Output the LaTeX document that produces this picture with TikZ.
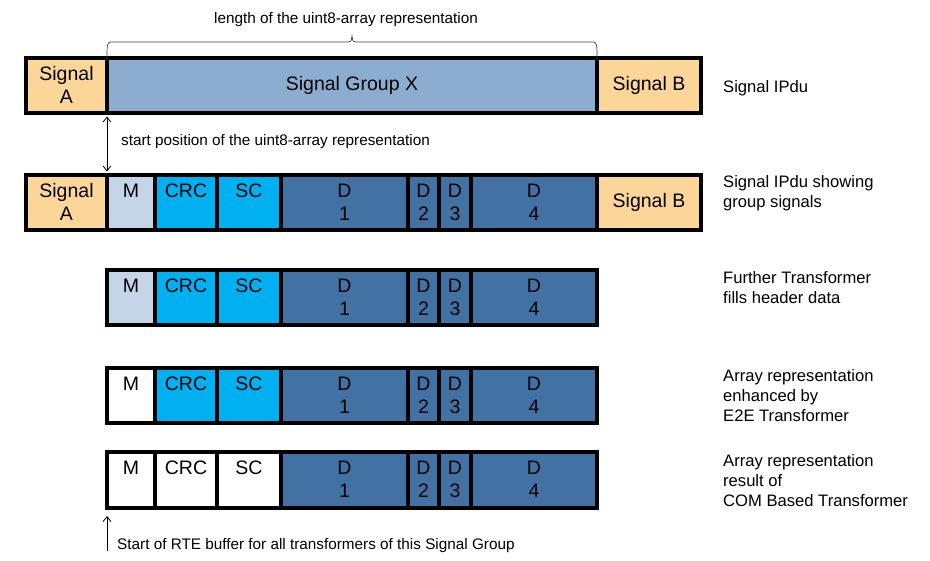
\documentclass[tikz,border=0pt]{standalone}
\usepackage{fontspec}
\setmainfont{Liberation Sans}
\usetikzlibrary{arrows.meta}
\definecolor{sigorange}{HTML}{FCD599}
\definecolor{groupx}{HTML}{8CACD0}
\definecolor{mlight}{HTML}{C5D5E8}
\definecolor{crccyan}{HTML}{00B0F0}
\definecolor{dblue}{HTML}{4272A3}
\tikzset{
  cellbox/.style={draw=black, line width=3.2pt, inner sep=0pt, outer sep=0pt, rectangle},
  celltxt/.style={inner sep=0pt, align=center, font=\fontsize{19.5}{23}\selectfont},
  sidelbl/.style={inner sep=0pt, align=left, anchor=north west, font=\fontsize{16.6}{20}\selectfont},
  annot/.style={inner sep=0pt, font=\fontsize{15.3}{18}\selectfont},
  thinarrow/.style={line width=0.8pt}
}
% name, x1, x2, y1, y2, fill, text
\newcommand\topcell[7]{%
  \node[cellbox, fill=#6, minimum width={(#3-#2)*1pt}, minimum height={(#5-#4)*1pt}] (#1) at ({(#2+#3)/2},{(#4+#5)/2}) {};
  \node[celltxt, anchor=north] (#1t) at ([yshift=-8.5pt]#1.north) {#7};}
\newcommand\midcell[7]{%
  \node[cellbox, fill=#6, minimum width={(#3-#2)*1pt}, minimum height={(#5-#4)*1pt}] (#1) at ({(#2+#3)/2},{(#4+#5)/2}) {};
  \node[celltxt] (#1t) at (#1.center) {#7};}
\begin{document}
\begin{tikzpicture}[x=1pt,y=-1pt]
\useasboundingbox (0,0) rectangle (930,561);
% Row 1
\topcell{ra}{26}{107}{58}{113}{sigorange}{Signal\\A}
\midcell{rx}{107}{597}{58}{113}{groupx}{Signal Group X}
\midcell{rb}{597}{701}{58}{113}{sigorange}{Signal B}
% Row 2
\topcell{sa}{26}{107}{175}{230}{sigorange}{Signal\\A}
\topcell{sm}{107}{155}{175}{230}{mlight}{M}
\topcell{sc}{155}{217}{175}{230}{crccyan}{CRC}
\topcell{ss}{217}{281}{175}{230}{crccyan}{SC}
\topcell{sd1}{281}{408}{175}{230}{dblue}{D\\1}
\topcell{sd2}{408}{439}{175}{230}{dblue}{D\\2}
\topcell{sd3}{439}{471}{175}{230}{dblue}{D\\3}
\topcell{sd4}{471}{597}{175}{230}{dblue}{D\\4}
\midcell{sb}{597}{701}{175}{230}{sigorange}{Signal B}
% Row 3
\topcell{fm}{107}{155}{270}{325}{mlight}{M}
\topcell{fc}{155}{217}{270}{325}{crccyan}{CRC}
\topcell{fs}{217}{281}{270}{325}{crccyan}{SC}
\topcell{fd1}{281}{408}{270}{325}{dblue}{D\\1}
\topcell{fd2}{408}{439}{270}{325}{dblue}{D\\2}
\topcell{fd3}{439}{471}{270}{325}{dblue}{D\\3}
\topcell{fd4}{471}{597}{270}{325}{dblue}{D\\4}
% Row 4
\topcell{em}{107}{155}{368}{423}{white}{M}
\topcell{ec}{155}{217}{368}{423}{crccyan}{CRC}
\topcell{es}{217}{281}{368}{423}{crccyan}{SC}
\topcell{ed1}{281}{408}{368}{423}{dblue}{D\\1}
\topcell{ed2}{408}{439}{368}{423}{dblue}{D\\2}
\topcell{ed3}{439}{471}{368}{423}{dblue}{D\\3}
\topcell{ed4}{471}{597}{368}{423}{dblue}{D\\4}
% Row 5
\topcell{cm}{107}{155}{452}{508}{white}{M}
\topcell{cc}{155}{217}{452}{508}{white}{CRC}
\topcell{cs}{217}{281}{452}{508}{white}{SC}
\topcell{cd1}{281}{408}{452}{508}{dblue}{D\\1}
\topcell{cd2}{408}{439}{452}{508}{dblue}{D\\2}
\topcell{cd3}{439}{471}{452}{508}{dblue}{D\\3}
\topcell{cd4}{471}{597}{452}{508}{dblue}{D\\4}
% Side labels
\node[sidelbl] (l1) at (723,80) {Signal IPdu};
\node[sidelbl] (l2) at (723,175) {Signal IPdu showing\\group signals};
\node[sidelbl] (l3) at (723,271) {Further Transformer\\fills header data};
\node[sidelbl] (l4) at (723,369) {Array representation\\enhanced by\\E2E Transformer};
\node[sidelbl] (l5) at (723,454) {Array representation\\result of\\COM Based Transformer};
% Brace and its label
\node[annot] (len) at (346,20) {length of the uint8-array representation};
\draw[line width=0.7pt, black!75] ([yshift=-3pt]rx.north west) .. controls (107,43) .. (111,42) -- (348,42) .. controls (351,42) .. (352,36) .. controls (353,42) .. (356,42) -- (593,42) .. controls (597,43) .. ([yshift=-3pt]rx.north east);
% Start position arrow
\coordinate (dpa) at (107,116.5);
\coordinate (dpb) at (107,171.5);
\draw[thinarrow, {Straight Barb[length=5pt,width=8pt]}-{Straight Barb[length=5pt,width=8pt]}] (dpa) -- (dpb);
\node[annot, anchor=west] (spos) at (121,141.5) {start position of the uint8-array representation};
% RTE buffer arrow
\coordinate (rtea) at (107,551);
\coordinate (rteb) at (107,516);
\draw[thinarrow, -{Straight Barb[length=5pt,width=8pt]}] (rtea) -- (rteb);
\node[annot, anchor=west] (rte) at (117,546) {Start of RTE buffer for all transformers of this Signal Group};
\end{tikzpicture}
\end{document}
